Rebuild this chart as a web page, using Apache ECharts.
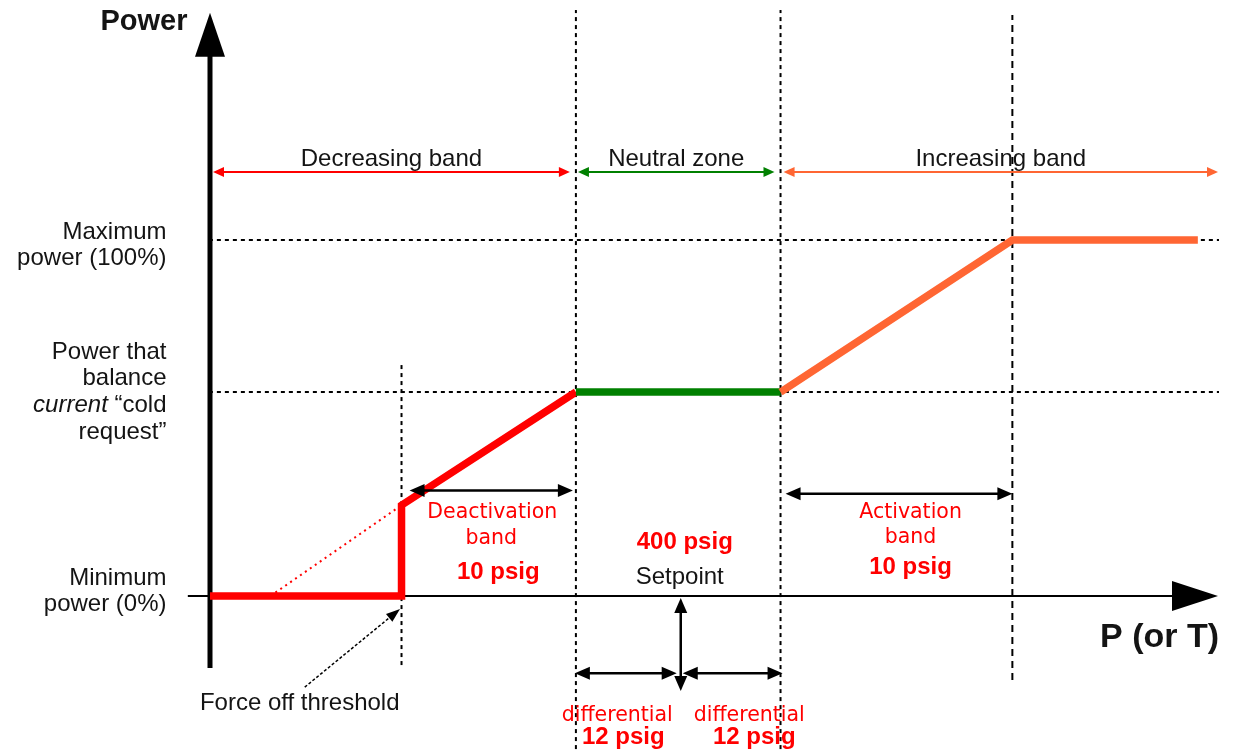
<!DOCTYPE html>
<html><head><meta charset="utf-8">
<script src="https://cdn.jsdelivr.net/npm/echarts@6/dist/echarts.min.js"></script>
<style>html,body{margin:0;padding:0;background:#fff}#c{width:1240px;height:751px}</style>
</head><body><div id="c"></div>
<script>
// ---------- Data (x: pressure / temperature, schematic units 0–100; y: power in %) ----------
const powerLevels = [0, 25.5, 57.3, 100];                 // minimum, force-off step, balance, maximum
const thresholds = [19, 36.3, 46.7, 56.6, 79.6];          // force off, neutral start, setpoint, neutral end, full power
const decreasingCurve = [[0, 0], [19, 0], [19, 25.5], [36.3, 57.3]];
const neutralCurve = [[36.3, 57.3], [56.6, 57.3]];
const increasingCurve = [[56.6, 57.3], [79.6, 100], [98, 100]];
const projectionLine = [[6, 0], [19, 25.5]];
const bandNames = ['Decreasing band', 'Neutral zone', 'Increasing band'];
const bandRanges = [[0.3, 35.7], [36.5, 56.0], [56.9, 100]];
const bandLevel = [119.1];
const levelLabels = ['Minimum\npower (0%)', 'Power that\nbalance\n{i|current} “cold\nrequest”', 'Maximum\npower (100%)'];
const levelLabelValues = [0, 57.3, 100];
const axisNames = ['Power', 'P (or T)'];
const deactivationText = ['Deactivation', 'band', '10 psig'];
const activationText = ['Activation', 'band', '10 psig'];
const setpointText = ['400 psig', 'Setpoint'];
const differentialText = ['differential', '12 psig'];
const forceOffText = ['Force off threshold'];

// guides (data units)
const guideHLevels = [100, 57.3];
const guideHExtent = [-1.7, 100.2];
const guideV = [[19, -19.4, 65.7], [36.3, -43, 164.6], [56.6, -43, 164.6]];
const guideVLong = [[79.6, -23.6, 163.2]];

// arrows (data units)
const powerAxis = [[[0, -20.2], [0, 163.8]]];
const pressureAxis = [[[-2.2, 0], [100, 0]]];
const deactivationArrow = [[[19.8, 29.6], [36.0, 29.6]]];
const activationArrow = [[[57.1, 28.7], [79.6, 28.7]]];
const setpointArrow = [[[46.7, -0.56], [46.7, -26.7]]];
const differentialArrows = [[[36.2, -21.7], [46.3, -21.7]], [[46.9, -21.7], [56.8, -21.7]]];
const forceOffPointer = [[[9.4, -25.6], [18.85, -3.65]]];

// ---------- Styles ----------
const RED = '#ff0000', GREEN = '#008000', ORANGE = '#ff6633', BLACK = '#000000';
const F_BLACK = {fontFamily: '"Liberation Sans", Arial, sans-serif', fontSize: 24, color: '#141414'};
const F_RED = {fontFamily: '"DejaVu Sans", Verdana, sans-serif', fontSize: 20.5, color: RED};
const F_RED_B = {fontFamily: '"Liberation Sans", Arial, sans-serif', fontSize: 24, fontWeight: 'bold', color: RED};
const F_TITLE = {fontFamily: '"Liberation Sans", Arial, sans-serif', fontSize: 29, fontWeight: 'bold', color: '#141414'};
const F_XTITLE = {fontFamily: '"Liberation Sans", Arial, sans-serif', fontSize: 34, fontWeight: 'bold', color: '#141414'};

function lineSeries(data, color, width, dash, z) {
  return {type: 'line', data: data, showSymbol: false, symbol: 'none', clip: false, silent: true, z: z,
    lineStyle: {color: color, width: width, type: dash || 'solid', cap: 'butt', join: 'miter', opacity: 1}};
}

function arrowSeries(segments, st) {
  return {
    type: 'custom', coordinateSystem: 'cartesian2d', clip: false, silent: true, z: st.z || 6,
    data: segments.map(s => [s[0][0], s[0][1], s[1][0], s[1][1]]),
    encode: {x: [0, 2], y: [1, 3]},
    renderItem(params, api) {
      const a = api.coord([api.value(0), api.value(1)]);
      const b = api.coord([api.value(2), api.value(3)]);
      const dx = b[0] - a[0], dy = b[1] - a[1], L = Math.hypot(dx, dy);
      const ux = dx / L, uy = dy / L, nx = -uy, ny = ux;
      const hl = st.headLen, hw = st.headWidth / 2;
      const head = (t, sx, sy) => {
        const bx = t[0] - sx * hl, by = t[1] - sy * hl;
        return {type: 'polygon', shape: {points: [[t[0], t[1]], [bx + nx * hw, by + ny * hw], [bx - nx * hw, by - ny * hw]]},
          style: {fill: st.color}};
      };
      const start = st.both ? [a[0] + ux * hl * 0.7, a[1] + uy * hl * 0.7] : a;
      const end = [b[0] - ux * hl * 0.7, b[1] - uy * hl * 0.7];
      const children = [{type: 'line', shape: {x1: start[0], y1: start[1], x2: end[0], y2: end[1]},
        style: {stroke: st.color, lineWidth: st.lineWidth, lineDash: st.dash || null}}, head(b, ux, uy)];
      if (st.both) children.push(head(a, -ux, -uy));
      return {type: 'group', children: children};
    }
  };
}

function textSeries(items) {
  return {
    type: 'scatter', symbolSize: 1, clip: false, silent: true, z: 10,
    itemStyle: {color: 'rgba(0,0,0,0)', opacity: 1},
    data: items.map(t => ({
      value: t.at,
      label: Object.assign({show: true, opacity: 1, position: t.pos || 'inside', distance: t.distance || 0,
        offset: t.offset || [0, 0], formatter: t.text, lineHeight: t.lineHeight || 28, rich: t.rich || {}}, t.font)
    }))
  };
}

const mid = r => (r[0] + r[1]) / 2;
const series = [];

// dashed guides
guideHLevels.forEach(v => series.push(lineSeries([[guideHExtent[0], v], [guideHExtent[1], v]], BLACK, 2, [4, 4], 1)));
guideV.forEach(g => series.push(lineSeries([[g[0], g[1]], [g[0], g[2]]], BLACK, 2, [4, 4], 1)));
guideVLong.forEach(g => series.push(lineSeries([[g[0], g[1]], [g[0], g[2]]], BLACK, 2, [7, 5], 1)));

// axes
series.push(arrowSeries(pressureAxis, {color: BLACK, lineWidth: 2, headLen: 46, headWidth: 30, z: 3}));
series.push(arrowSeries(powerAxis, {color: BLACK, lineWidth: 5, headLen: 44, headWidth: 30, z: 3}));

// power curve
series.push(lineSeries(projectionLine, RED, 2, [2, 4], 4));
series.push(lineSeries(decreasingCurve, RED, 7.5, null, 5));
series.push(lineSeries(neutralCurve, GREEN, 7.5, null, 5));
series.push(lineSeries(increasingCurve, ORANGE, 7.5, null, 5));

// band arrows
const bandColors = [RED, GREEN, ORANGE];
bandRanges.forEach((r, i) => series.push(arrowSeries([[[r[0], bandLevel[0]], [r[1], bandLevel[0]]]],
  {color: bandColors[i], lineWidth: 2, headLen: 11, headWidth: 10, both: true, z: 4})));

// dimension arrows
const dimStyle = {color: BLACK, lineWidth: 2.5, headLen: 15, headWidth: 13, both: true, z: 6};
series.push(arrowSeries(deactivationArrow, dimStyle));
series.push(arrowSeries(activationArrow, dimStyle));
series.push(arrowSeries(setpointArrow, dimStyle));
series.push(arrowSeries(differentialArrows, dimStyle));
series.push(arrowSeries(forceOffPointer, {color: BLACK, lineWidth: 1.5, headLen: 14, headWidth: 10, dash: [3, 2], z: 6}));

// texts
const italic = {i: Object.assign({fontStyle: 'italic', lineHeight: 26.7}, F_BLACK)};
const texts = [
  {text: axisNames[0], at: [0, 157.6], pos: 'left', distance: 22, offset: [0, -13], font: F_TITLE},
  {text: axisNames[1], at: [94.2, -11.8], font: F_XTITLE},
  {text: levelLabels[0], at: [0, levelLabelValues[0]], pos: 'left', distance: 43, offset: [0, -4.5], lineHeight: 26, font: F_BLACK},
  {text: levelLabels[1], at: [0, levelLabelValues[1]], pos: 'left', distance: 43, offset: [0, 0], lineHeight: 26.7, font: F_BLACK, rich: italic},
  {text: levelLabels[2], at: [0, levelLabelValues[2]], pos: 'left', distance: 43, offset: [0, 5], lineHeight: 26, font: F_BLACK},
  {text: deactivationText[0], at: [28.0, 23.3], font: F_RED},
  {text: deactivationText[1], at: [27.9, 16.0], font: F_RED},
  {text: deactivationText[2], at: [28.6, 6.7], font: F_RED_B},
  {text: activationText[0], at: [69.5, 23.3], font: F_RED},
  {text: activationText[1], at: [69.5, 16.3], font: F_RED},
  {text: activationText[2], at: [69.5, 8.1], font: F_RED_B},
  {text: setpointText[0], at: [47.1, 15.2], font: F_RED_B},
  {text: setpointText[1], at: [46.6, 5.3], font: F_BLACK},
  {text: differentialText[0], at: [40.4, -33.7], font: F_RED},
  {text: differentialText[1], at: [41.0, -39.6], font: F_RED_B},
  {text: differentialText[0], at: [53.5, -33.7], font: F_RED},
  {text: differentialText[1], at: [54.0, -39.6], font: F_RED_B},
  {text: forceOffText[0], at: [8.9, -30.1], font: F_BLACK}
];
bandNames.forEach((n, i) => texts.push({text: n, at: [mid(bandRanges[i]), bandLevel[0]], offset: [0, -13], font: F_BLACK}));
series.push(textSeries(texts));

const chart = echarts.init(document.getElementById('c'), null, {renderer: 'canvas'});
chart.setOption({
  animation: false,
  backgroundColor: '#ffffff',
  grid: {left: 210, right: 22, top: 26.4, bottom: 12.6},
  xAxis: {type: 'value', min: 0, max: 100, show: false},
  yAxis: {type: 'value', min: -40, max: 160, show: false},
  series: series
});
</script>
</body></html>
